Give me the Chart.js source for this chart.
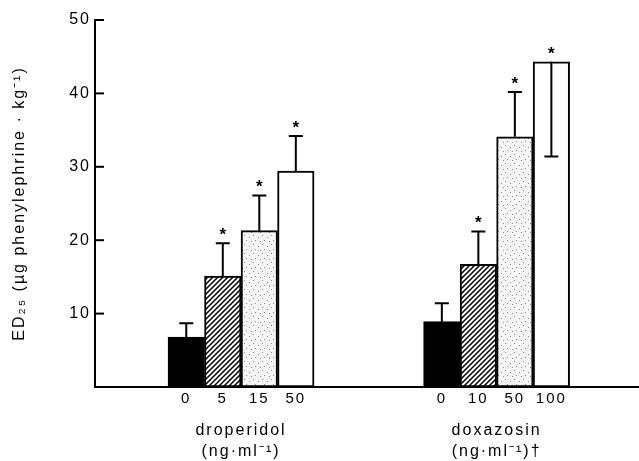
<!DOCTYPE html>
<html lang="en">
<head>
  <meta charset="UTF-8">
  <title>ED25 - droperidol / doxazosin</title>
  <script src="https://cdn.jsdelivr.net/npm/chart.js"></script>
  <style>
    html, body { margin: 0; padding: 0; background: #fff; }
    .chart-container { width: 639px; height: 461px; }
  </style>
</head>
<body>
  <div class="chart-container">
    <canvas id="chart" width="639" height="461"></canvas>
  </div>

  <script>
    // values (ED25, µg phenylephrine/kg)
    const doseLabels     = ['0', '5', '15', '50', '0', '10', '50', '100'];
    const droperidolMean = [6.8, 15.1, 21.3, 29.4];
    const droperidolSem  = [1.9, 4.5, 4.8, 4.8];
    const doxazosinMean  = [8.9, 16.7, 34.1, 44.3];
    const doxazosinSem   = [2.5, 4.5, 6.1, 12.9];
    const significant    = [false, true, true, true, false, true, true, true];
    const groupTitles    = [['droperidol', '(ng·ml⁻¹)'], ['doxazosin', '(ng·ml⁻¹)†']];
    const yTicks         = [10, 20, 30, 40, 50];

    const means = droperidolMean.concat(doxazosinMean);
    const sems  = droperidolSem.concat(doxazosinSem);

    const FONT = "'Liberation Sans', Arial, Helvetica, sans-serif";
    const INK = '#000';

    const ctx = document.getElementById('chart').getContext('2d');

    // fill patterns of the old print
    function hatchPattern() {
      const c = document.createElement('canvas');
      c.width = c.height = 5;
      const g = c.getContext('2d');
      g.fillStyle = '#fff';
      g.fillRect(0, 0, 5, 5);
      g.strokeStyle = INK;
      g.lineWidth = 1.5;
      g.beginPath();
      g.moveTo(-1, 6); g.lineTo(6, -1);
      g.moveTo(-1, 1); g.lineTo(1, -1);
      g.moveTo(4, 6); g.lineTo(6, 4);
      g.stroke();
      return ctx.createPattern(c, 'repeat');
    }
    function dotPattern() {
      const c = document.createElement('canvas');
      c.width = c.height = 9;
      const g = c.getContext('2d');
      g.fillStyle = '#f5f5f5';
      g.fillRect(0, 0, 9, 9);
      g.fillStyle = '#8a8a8a';
      [[1, 1], [6, 3], [3, 6], [8, 7]].forEach(p => g.fillRect(p[0], p[1], 1, 1));
      return ctx.createPattern(c, 'repeat');
    }
    const fills = ['#000', hatchPattern(), dotPattern(), '#fff'];

    // bar slots on the linear x axis: group 1 starts at 2, group 2 at 9
    const groupStart = [2, 9];
    const barX = doseLabels.map((_, i) => groupStart[Math.floor(i / 4)] + (i % 4) + 0.5);
    const groupX = groupStart.map(s => s + 2);

    const errorBars = {
      id: 'errorBars',
      beforeDraw(chart) {
        chart.ctx.letterSpacing = '2px';
      },
      afterDatasetsDraw(chart) {
        const c = chart.ctx;
        const y = chart.scales.y;
        const meta = chart.getDatasetMeta(0);
        c.save();
        c.strokeStyle = INK;
        c.fillStyle = INK;
        c.lineWidth = 2;
        meta.data.forEach((bar, i) => {
          const top = y.getPixelForValue(means[i]);
          const up = means[i] + sems[i] <= y.max;
          const end = y.getPixelForValue(up ? means[i] + sems[i] : means[i] - sems[i]);
          c.beginPath();
          c.moveTo(bar.x, top);
          c.lineTo(bar.x, end);
          c.moveTo(bar.x - 7, end);
          c.lineTo(bar.x + 7, end);
          c.stroke();
          if (significant[i]) {
            c.font = 'bold 17px ' + FONT;
            c.textAlign = 'center';
            c.textBaseline = 'middle';
            c.fillText('*', bar.x + 1, Math.min(top, end) - 8);
          }
        });
        // y ticks point inwards
        const left = chart.chartArea.left;
        y.ticks.forEach(t => {
          const py = y.getPixelForValue(t.value);
          c.beginPath();
          c.moveTo(left, py);
          c.lineTo(left + 9, py);
          c.stroke();
        });
        c.restore();
      }
    };

    new Chart(ctx, {
      type: 'bar',
      data: {
        datasets: [{
          data: barX.map((x, i) => ({ x: x, y: means[i] })),
          backgroundColor: doseLabels.map((_, i) => fills[i % 4]),
          borderColor: INK,
          borderWidth: 2,
          borderSkipped: false,
          barPercentage: 1,
          categoryPercentage: 1
        }]
      },
      options: {
        responsive: false,
        animation: false,
        layout: { padding: { top: 20, right: 0, bottom: 0, left: 0 } },
        plugins: { legend: { display: false }, tooltip: { enabled: false } },
        scales: {
          x: {
            type: 'linear',
            min: 0,
            max: 14.9,
            offset: false,
            weight: 0,
            grid: { drawOnChartArea: false, drawTicks: false, offset: false },
            border: { display: true, color: INK, width: 2 },
            afterBuildTicks(scale) { scale.ticks = barX.map(v => ({ value: v })); },
            afterFit(scale) { scale.height = 24; },
            ticks: {
              autoSkip: false,
              maxRotation: 0,
              padding: 3,
              color: INK,
              font: { family: FONT, size: 15 },
              callback: (v, i) => doseLabels[i]
            }
          },
          x2: {
            type: 'linear',
            position: 'bottom',
            min: 0,
            max: 14.9,
            offset: false,
            weight: 1,
            grid: { display: false, drawTicks: false },
            border: { display: false },
            afterBuildTicks(scale) { scale.ticks = groupX.map(v => ({ value: v })); },
            afterFit(scale) { scale.height = 50; },
            ticks: {
              autoSkip: false,
              maxRotation: 0,
              padding: 9,
              color: INK,
              font: { family: FONT, size: 16, lineHeight: 1.3 },
              callback: (v, i) => groupTitles[i]
            }
          },
          y: {
            min: 0,
            max: 50,
            grid: { drawOnChartArea: false, drawTicks: false },
            border: { color: INK, width: 2 },
            afterBuildTicks(scale) { scale.ticks = yTicks.map(v => ({ value: v })); },
            afterFit(scale) { scale.width = 95; },
            ticks: {
              padding: 4,
              color: INK,
              font: { family: FONT, size: 16 }
            },
            title: {
              display: true,
              text: 'ED₂₅ (µg phenylephrine · kg⁻¹)',
              color: INK,
              padding: { top: 10, bottom: 0 },
              font: { family: FONT, size: 16 }
            }
          }
        }
      },
      plugins: [errorBars]
    });
  </script>
</body>
</html>
